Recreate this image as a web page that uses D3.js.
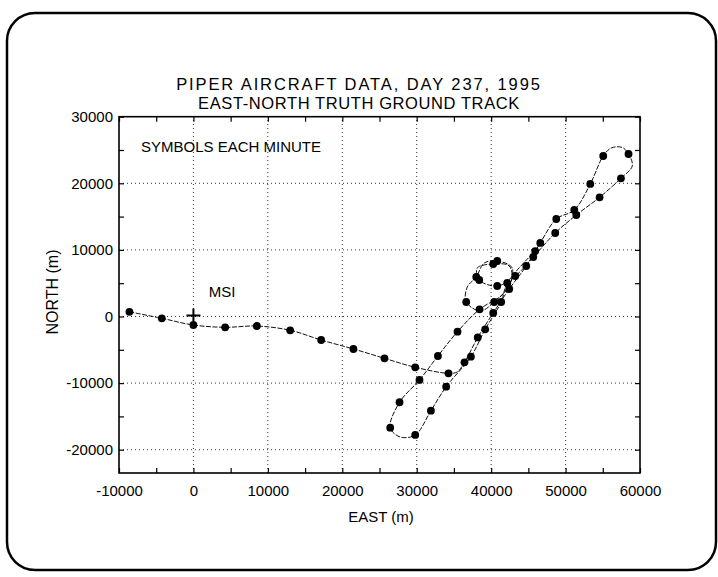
<!DOCTYPE html>
<html lang="en">
    <head>
        <meta charset="utf-8">
        <title>Piper Aircraft Ground Track</title>
        <script src="https://d3js.org/d3.v7.min.js"></script>
        <style type="text/css">
          body { margin: 0; background: #fff; }
          text { font-family: "Liberation Sans", Arial, Helvetica, sans-serif; fill: #000; }
          .title { font-size: 16.5px; }
          .tick text { font-size: 15px; }
          .lbl { font-size: 15px; }
        </style>
    </head>
    <body>
        <svg width="718" height="577"></svg>
        <script type="text/javascript">

            // tick values (m)
            const xTicks = [-10000, 0, 10000, 20000, 30000, 40000, 50000, 60000];
            const yTicks = [-20000, -10000, 0, 10000, 20000, 30000];
            const xMinor = [-5000, 5000, 15000, 25000, 35000, 45000, 55000];
            const yMinor = [-15000, -5000, 5000, 15000, 25000];

            // truth ground track, east/north in metres; minute = 1 where a symbol is drawn
            const trackEast  = [-8600, -4250, 0, 4260, 8520, 13000, 17160, 21500, 25670, 29800, 34270, 35440,
                                36420, 38200, 40280, 42430, 44720, 46600, 48750, 51170, 53320, 55060, 56140, 57620,
                                58460, 58960, 57440, 54570, 51440, 48610, 45660, 43240, 40820, 38400, 38130, 40280,
                                42430, 42700, 40410, 38530, 36650, 36790, 38000, 39070, 40820, 42830, 41890, 38440,
                                35480, 32850, 30370, 27690, 26440, 27780, 29800, 31910, 33960, 37280, 39200, 41350,
                                42160, 45920];
            const trackNorth = [700, -270, -1280, -1620, -1430, -2070, -3530, -4880, -6280, -7630, -8530, -8330,
                                -6880, -3150, 530, 4130, 7580, 11040, 14640, 15990, 19900, 24100, 25300, 25380,
                                24400, 22600, 20750, 17900, 15240, 12540, 8930, 6080, 4580, 5480, 7280, 7880,
                                7580, 5180, 2180, 830, 2180, 4430, 5930, 8030, 8330, 7280, 3680, 1080,
                                -2280, -5930, -9530, -12880, -16700, -18090, -17790, -14140, -10540, -6040, -1920, 2180,
                                5030, 9830];
            const trackMinute = [1, 1, 1, 1, 1, 1, 1, 1, 1, 1, 1, 0,
                                 1, 1, 1, 1, 1, 1, 1, 1, 1, 1, 0, 0,
                                 1, 0, 1, 1, 1, 1, 1, 1, 1, 1, 0, 1,
                                 0, 0, 1, 0, 1, 0, 1, 0, 1, 0, 0, 1,
                                 1, 1, 1, 1, 1, 0, 1, 1, 1, 1, 1, 1,
                                 1, 1];

            // MSI site
            const msiEast = [0];
            const msiNorth = [0];

            const track = trackEast.map((e, i) => ({east: e, north: trackNorth[i], minute: trackMinute[i]}));

            const svg = d3.select("svg");
            const x = d3.scaleLinear().domain([-10000, 60000]).range([119, 640]);
            const y = d3.scaleLinear().domain([-23500, 30000]).range([473, 116.7]);
            const plain = d => String(d);   // "-10000", no thousands comma

            // outer rounded border
            svg.append("rect")
               .attr("x", 7).attr("y", 13)
               .attr("width", 709).attr("height", 557)
               .attr("rx", 28)
               .style("fill", "none")
               .style("stroke", "#000")
               .style("stroke-width", 2.5);

            // title
            svg.append("text")
               .attr("class", "title")
               .attr("x", 359).attr("y", 90)
               .attr("text-anchor", "middle")
               .style("letter-spacing", "1.9px")
               .text("PIPER AIRCRAFT DATA, DAY 237, 1995");
            svg.append("text")
               .attr("class", "title")
               .attr("x", 359).attr("y", 109)
               .attr("text-anchor", "middle")
               .style("letter-spacing", "0.6px")
               .text("EAST-NORTH TRUTH GROUND TRACK");

            // dotted grid
            const grid = svg.append("g")
                            .style("stroke", "#333")
                            .style("stroke-width", 1)
                            .style("stroke-dasharray", "1,3");
            grid.selectAll(".gx")
                .data(xTicks.slice(1, -1))
                .enter().append("line")
                .attr("x1", d => x(d)).attr("x2", d => x(d))
                .attr("y1", y.range()[0]).attr("y2", y.range()[1]);
            grid.selectAll(".gy")
                .data(yTicks.slice(0, -1))
                .enter().append("line")
                .attr("y1", d => y(d)).attr("y2", d => y(d))
                .attr("x1", x.range()[0]).attr("x2", x.range()[1]);

            // axes with inward ticks
            const axisB = svg.append("g").attr("transform", `translate(0,${y.range()[0]})`)
                             .call(d3.axisBottom(x).tickValues(xTicks).tickFormat(plain)
                                     .tickSizeInner(-5).tickSizeOuter(0).tickPadding(12));
            const axisL = svg.append("g").attr("transform", `translate(${x.range()[0]},0)`)
                             .call(d3.axisLeft(y).tickValues(yTicks).tickFormat(plain)
                                     .tickSizeInner(-5).tickSizeOuter(0).tickPadding(6));
            const axisT = svg.append("g").attr("transform", `translate(0,${y.range()[1]})`)
                             .call(d3.axisTop(x).tickValues(xTicks.concat(xMinor)).tickSize(-5).tickFormat(""));
            const axisR = svg.append("g").attr("transform", `translate(${x.range()[1]},0)`)
                             .call(d3.axisRight(y).tickValues(yTicks.concat(yMinor)).tickSize(-5).tickFormat(""));
            svg.append("g").attr("transform", `translate(0,${y.range()[0]})`)
               .call(d3.axisBottom(x).tickValues(xMinor).tickSize(-5).tickFormat(""));
            svg.append("g").attr("transform", `translate(${x.range()[0]},0)`)
               .call(d3.axisLeft(y).tickValues(yMinor).tickSize(-5).tickFormat(""));

            svg.selectAll(".domain").remove();
            svg.selectAll(".tick line").style("stroke", "#000").style("stroke-width", 1.2);
            svg.selectAll(".tick text").style("font-family", "'Liberation Sans', Arial, sans-serif").style("font-size", "15px");

            // plot frame
            svg.append("rect")
               .attr("x", x.range()[0]).attr("y", y.range()[1])
               .attr("width", x.range()[1] - x.range()[0])
               .attr("height", y.range()[0] - y.range()[1])
               .style("fill", "none")
               .style("stroke", "#000")
               .style("stroke-width", 1.6);

            // axis titles
            svg.append("text")
               .attr("class", "lbl")
               .attr("x", 381).attr("y", 522)
               .attr("text-anchor", "middle")
               .text("EAST (m)");
            svg.append("text")
               .attr("class", "lbl")
               .attr("transform", "translate(58,292) rotate(-90)")
               .attr("text-anchor", "middle")
               .style("font-size", "16px")
               .text("NORTH (m)");

            svg.append("text")
               .attr("class", "lbl")
               .attr("x", 141).attr("y", 152)
               .text("SYMBOLS EACH MINUTE");

            // track line
            const line = d3.line()
                           .x(d => x(d.east))
                           .y(d => y(d.north))
                           .curve(d3.curveCatmullRom.alpha(0.5));
            svg.append("path")
               .datum(track)
               .attr("d", line)
               .style("fill", "none")
               .style("stroke", "#111")
               .style("stroke-width", 1)
               .style("stroke-dasharray", "5,1.5");

            // minute symbols
            svg.selectAll(".dot")
               .data(track.filter(d => d.minute === 1))
               .enter().append("circle")
               .attr("cx", d => x(d.east))
               .attr("cy", d => y(d.north))
               .attr("r", 3.9)
               .style("fill", "#000");

            // MSI marker
            const msi = svg.append("g")
                           .attr("transform", `translate(${x(msiEast[0])},${y(msiNorth[0])})`)
                           .style("stroke", "#000")
                           .style("stroke-width", 2);
            msi.append("line").attr("x1", 0).attr("x2", 0).attr("y1", -8).attr("y2", 8);
            msi.append("line").attr("x1", -7).attr("x2", 7).attr("y1", -1).attr("y2", -1);
            svg.append("text")
               .attr("class", "lbl")
               .attr("x", 222).attr("y", 297)
               .attr("text-anchor", "middle")
               .text("MSI");

        </script>
    </body>
</html>
